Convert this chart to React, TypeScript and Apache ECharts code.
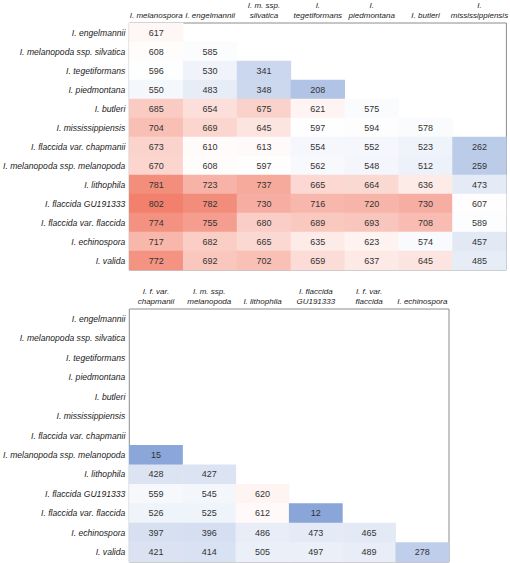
import React, { useEffect, useRef } from "react";
import * as echarts from "echarts";

const rowLabels = [
  "I. engelmannii",
  "I. melanopoda ssp. silvatica",
  "I. tegetiformans",
  "I. piedmontana",
  "I. butleri",
  "I. mississippiensis",
  "I. flaccida var. chapmanii",
  "I. melanopoda ssp. melanopoda",
  "I. lithophila",
  "I. flaccida GU191333",
  "I. flaccida var. flaccida",
  "I. echinospora",
  "I. valida",
];

const topCols = [
  "I. melanospora",
  "I. engelmannii",
  "I. m. ssp.\nsilvatica",
  "I.\ntegetiformans",
  "I.\npiedmontana",
  "I. butleri",
  "I.\nmississippiensis",
];

const bottomCols = [
  "I. f. var.\nchapmanii",
  "I. m. ssp.\nmelanopoda",
  "I. lithophila",
  "I. flaccida\nGU191333",
  "I. f. var.\nflaccida",
  "I. echinospora",
];

// top table rows (lower triangle), one array per row
const topValues: number[][] = [
  [617],
  [608, 585],
  [596, 530, 341],
  [550, 483, 348, 208],
  [685, 654, 675, 621, 575],
  [704, 669, 645, 597, 594, 578],
  [673, 610, 613, 554, 552, 523, 262],
  [670, 608, 597, 562, 548, 512, 259],
  [781, 723, 737, 665, 664, 636, 473],
  [802, 782, 730, 716, 720, 730, 607],
  [774, 755, 680, 689, 693, 708, 589],
  [717, 682, 665, 635, 623, 574, 457],
  [772, 692, 702, 659, 637, 645, 485],
];

// bottom table rows
const bottomValues: number[][] = [
  [],
  [],
  [],
  [],
  [],
  [],
  [],
  [15],
  [428, 427],
  [559, 545, 620],
  [526, 525, 612, 12],
  [397, 396, 486, 473, 465],
  [421, 414, 505, 497, 489, 278],
];

const toCells = (m: number[][]) => {
  const out: [number, number, number][] = [];
  m.forEach((row, r) => row.forEach((v, c) => out.push([c, r, v])));
  return out;
};

const FONT = "Liberation Sans";

export default function App() {
  const ref = useRef<HTMLDivElement>(null);
  useEffect(() => {
    if (!ref.current) return;
    const chart = echarts.init(ref.current, undefined, { renderer: "svg" });
    const xAxisBase = {
      type: "category" as const,
      position: "top" as const,
      axisTick: { show: false },
      axisLine: { show: false },
      splitLine: { show: false },
      axisLabel: {
        interval: 0,
        fontStyle: "italic",
        fontFamily: FONT,
        fontSize: 8,
        color: "#222",
        lineHeight: 10,
        margin: 3,
      },
    };
    const yAxisBase = {
      type: "category" as const,
      inverse: true,
      data: rowLabels,
      axisTick: { show: false },
      axisLine: { show: false },
      splitLine: { show: false },
      axisLabel: {
        interval: 0,
        fontStyle: "italic",
        fontFamily: FONT,
        fontSize: 8.6,
        color: "#222",
        margin: 4,
      },
    };
    const seriesBase = {
      type: "heatmap" as const,
      label: {
        show: true,
        fontFamily: FONT,
        fontSize: 9,
        color: "#333",
        formatter: (p: any) => String(p.value[2]),
      },
      itemStyle: { borderWidth: 0 },
      emphasis: { disabled: true },
    };
    chart.setOption({
      animation: false,
      backgroundColor: "#ffffff",
      grid: [
        { left: 116, top: 17, width: 393, height: 253, show: true, borderColor: "#8c8c8c", borderWidth: 1, backgroundColor: "transparent" },
        { left: 116, top: 309, width: 333, height: 253, show: true, borderColor: "#8c8c8c", borderWidth: 1, backgroundColor: "transparent" },
      ],
      xAxis: [
        { ...xAxisBase, gridIndex: 0, data: topCols },
        { ...xAxisBase, gridIndex: 1, data: bottomCols },
      ],
      yAxis: [
        { ...yAxisBase, gridIndex: 0 },
        { ...yAxisBase, gridIndex: 1 },
      ],
      visualMap: {
        show: false,
        type: "continuous",
        min: 12,
        max: 802,
        dimension: 2,
        seriesIndex: [0, 1],
        inRange: { color: ["#8aa6d8", "#b1c4e5", "#d8e1f2", "#ffffff", "#f2806c"] },
      },
      series: [
        { ...seriesBase, xAxisIndex: 0, yAxisIndex: 0, data: toCells(topValues) },
        { ...seriesBase, xAxisIndex: 1, yAxisIndex: 1, data: toCells(bottomValues) },
      ],
    });
    return () => chart.dispose();
  }, []);
  return (
    <div
      ref={ref}
      style={{ position: "fixed", left: 0, top: 0, width: 510, height: 563, background: "#fff" }}
    />
  );
}
